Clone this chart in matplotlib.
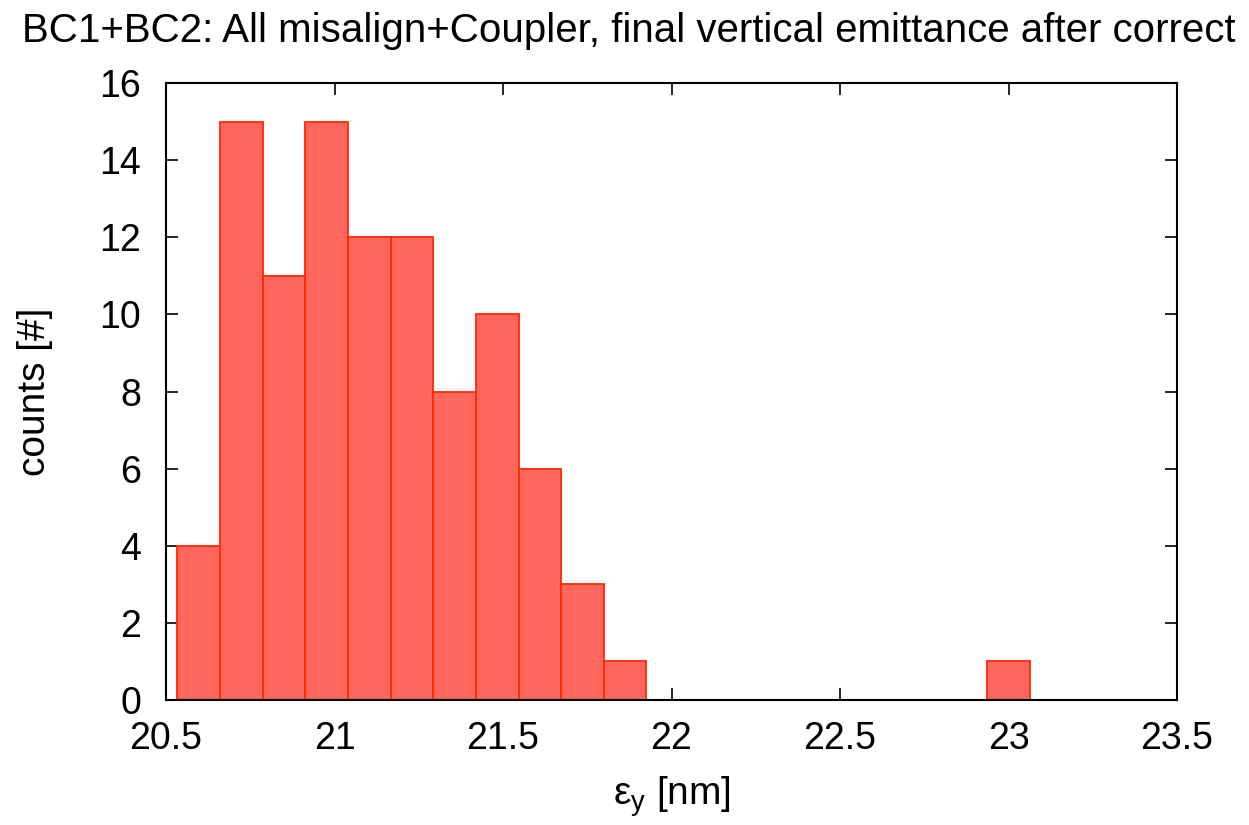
import matplotlib
matplotlib.use("Agg")
import matplotlib.pyplot as plt
import numpy as np

# Data
bin_start = 20.534
bin_width = 0.1265
counts = [4, 15, 11, 15, 12, 12, 8, 10, 6, 3, 1, 0, 0, 0, 0, 0, 0, 0, 0, 1]
x_ticks = [20.5, 21, 21.5, 22, 22.5, 23, 23.5]
x_ticklabels = ["20.5", "21", "21.5", "22", "22.5", "23", "23.5"]
y_ticks = [0, 2, 4, 6, 8, 10, 12, 14, 16]
title = "BC1+BC2: All misalign+Coupler, final vertical emittance after correct"

plt.rcParams['font.family'] = ['Liberation Sans', 'DejaVu Sans']
plt.rcParams['mathtext.default'] = 'regular'

fig = plt.figure(figsize=(12.49, 8.25), dpi=100)
L, R, T, B = 166, 1177, 83, 700
ax = fig.add_axes([L/1249, 1-B/825, (R-L)/1249, (B-T)/825])

lefts = bin_start + bin_width * np.arange(len(counts))
ax.bar(lefts, counts, width=bin_width, align='edge',
       color='#ff665e', edgecolor='#ff2a00', linewidth=1.3, zorder=2)

ax.set_xlim(20.5, 23.5)
ax.set_ylim(0, 16)
ax.set_xticks(x_ticks)
ax.set_xticklabels(x_ticklabels)
ax.set_yticks(y_ticks)
ax.tick_params(direction='in', length=8.5, width=1.2, labelsize=27,
               top=True, right=True, colors='black')
ax.tick_params(axis='x', pad=15)
ax.tick_params(axis='y', pad=18)
for s in ax.spines.values():
    s.set_linewidth(1.5)
    s.set_zorder(3)

ax.set_xlabel("ε$_y$ [nm]", fontsize=28)
ax.set_ylabel("counts [#]", fontsize=28)
ax.xaxis.label.set_va('center')
ax.yaxis.label.set_va('center')
ax.xaxis.set_label_coords(0.5, (B-797)/(B-T))
ax.yaxis.set_label_coords((35-L)/(R-L), 0.5)
fig.text(22/1249, 1-31/825, title, fontsize=29, ha='left', va='center')

fig.savefig("out.png", dpi=100)
